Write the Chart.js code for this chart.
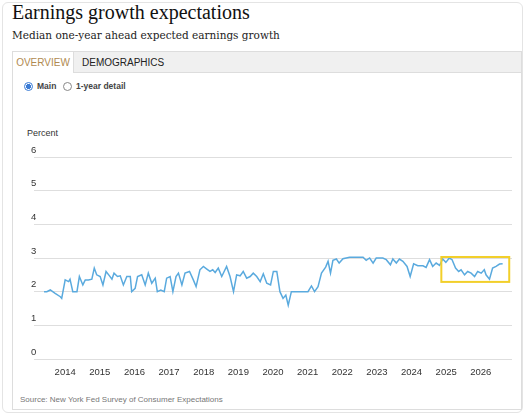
<!DOCTYPE html>
<html>
<head>
<meta charset="utf-8">
<script src="https://cdn.jsdelivr.net/npm/chart.js@4"></script>
<style>
  body { margin: 0; width: 525px; height: 415px; background: #fff; position: relative; overflow: hidden; font-family: "Liberation Sans", Arial, sans-serif; }
  .frame { position: absolute; left: 2px; top: 2px; width: 519px; height: 409px; border: 1px solid #e4e4e4; border-radius: 6px; }
  .title { position: absolute; left: 12px; top: 1px; font: 20px "Liberation Serif", "DejaVu Serif", serif; color: #111; }
  .sub { position: absolute; left: 12px; top: 29px; font: 10.5px "DejaVu Serif", serif; color: #222; }
  .panel { position: absolute; left: 12px; top: 51px; width: 508px; height: 357px; border: 1px solid #ddd; }
  .tabs { position: absolute; left: 0; top: 0; width: 508px; height: 20px; background: #f0f0f0; border-bottom: 1px solid #ddd; }
  .tab1 { position: absolute; left: 0; top: 0; width: 60px; height: 21px; background: #fff; border-right: 1px solid #ddd; color: #b08a50; font-size: 10px; line-height: 21px; text-align: center; }
  .tab2 { position: absolute; left: 69px; top: 0; font-size: 10px; line-height: 21px; color: #222; }
  .radio { position: absolute; top: 29px; font-size: 8.5px; font-weight: bold; color: #444; }
  .dot { display: inline-block; width: 7px; height: 7px; border-radius: 50%; border: 1px solid #888; vertical-align: -2px; margin-right: 4px; }
  .on { border-color: #3a7bd5; background: radial-gradient(#3a7bd5 45%, #fff 55%); }
  .unit { position: absolute; left: 27px; top: 128px; font-size: 9px; color: #333; }
  .src { position: absolute; left: 20px; top: 395px; font-size: 8px; color: #777; }
  canvas { position: absolute; left: 0; top: 0; }
</style>
</head>
<body>
<div class="frame"></div>
<div class="title">Earnings growth expectations</div>
<div class="sub">Median one-year ahead expected earnings growth</div>
<div class="panel">
  <div class="tabs"><div class="tab1">OVERVIEW</div><div class="tab2">DEMOGRAPHICS</div></div>
  <div class="radio" style="left:11px"><span class="dot on"></span>Main</div>
  <div class="radio" style="left:50px"><span class="dot"></span>1-year detail</div>
</div>
<div class="unit">Percent</div>
<div class="src">Source: New York Fed Survey of Consumer Expectations</div>
<div style="position:absolute;left:0;top:0;width:525px;height:415px"><canvas id="chart"></canvas></div>
<script>
const dates = [
  2013.39, 2013.47, 2013.57, 2013.71, 2013.86, 2013.90, 2014.00, 2014.10, 2014.14, 2014.22,
  2014.34, 2014.41, 2014.51, 2014.58, 2014.67, 2014.77, 2014.84, 2014.91, 2015.01, 2015.09,
  2015.18, 2015.28, 2015.35, 2015.41, 2015.51, 2015.59, 2015.68, 2015.78, 2015.88, 2015.92,
  2016.02, 2016.09, 2016.21, 2016.31, 2016.40, 2016.50, 2016.60, 2016.66, 2016.76, 2016.86,
  2016.93, 2017.03, 2017.11, 2017.20, 2017.27, 2017.37, 2017.46, 2017.59, 2017.70, 2017.78,
  2017.89, 2017.99, 2018.09, 2018.18, 2018.26, 2018.33, 2018.42, 2018.52, 2018.66, 2018.76,
  2018.86, 2018.95, 2019.05, 2019.14, 2019.24, 2019.34, 2019.43, 2019.53, 2019.63, 2019.72,
  2019.82, 2019.93, 2020.01, 2020.11, 2020.20, 2020.29, 2020.37, 2020.44, 2020.53, 2020.68,
  2020.87, 2021.01, 2021.11, 2021.20, 2021.30, 2021.40, 2021.52, 2021.59, 2021.66, 2021.73,
  2021.83, 2021.91, 2022.02, 2022.21, 2022.41, 2022.60, 2022.69, 2022.79, 2022.89, 2022.98,
  2023.17, 2023.27, 2023.39, 2023.46, 2023.56, 2023.65, 2023.75, 2023.87, 2023.96, 2024.06,
  2024.18, 2024.33, 2024.42, 2024.52, 2024.61, 2024.71, 2024.81, 2024.90, 2024.99, 2025.09,
  2025.17, 2025.27, 2025.36, 2025.43, 2025.53, 2025.62, 2025.72, 2025.82, 2025.91, 2026.01,
  2026.10, 2026.15, 2026.25, 2026.34, 2026.44, 2026.54, 2026.63
];
const growth = [
  2.00, 2.00, 2.05, 1.95, 1.85, 1.80, 2.35, 2.30, 2.37, 2.00,
  2.00, 2.45, 2.20, 2.35, 2.35, 2.37, 2.70, 2.50, 2.45, 2.20,
  2.60, 2.47, 2.37, 2.55, 2.45, 2.47, 2.20, 2.45, 2.45, 2.00,
  2.10, 2.45, 2.50, 2.20, 2.55, 2.25, 2.40, 2.00, 2.05, 2.00,
  2.40, 2.45, 2.00, 2.45, 2.55, 2.20, 2.55, 2.60, 2.35, 2.15,
  2.65, 2.75, 2.67, 2.60, 2.65, 2.57, 2.70, 2.45, 2.75, 2.45,
  2.00, 2.50, 2.47, 2.60, 2.40, 2.45, 2.55, 2.45, 2.30, 2.53,
  2.25, 2.20, 2.60, 2.60, 2.00, 1.80, 1.90, 1.60, 2.00, 2.00,
  2.00, 2.00, 2.17, 2.00, 2.15, 2.55, 2.73, 2.90, 2.55, 2.93,
  2.97, 2.85, 2.98, 3.02, 3.02, 3.02, 2.93, 3.00, 2.85, 3.00,
  3.00, 2.95, 2.80, 2.97, 2.85, 2.97, 2.90, 2.75, 2.45, 2.83,
  2.77, 2.77, 2.72, 2.95, 2.75, 2.85, 2.78, 2.97, 2.87, 3.00,
  2.95, 2.70, 2.60, 2.65, 2.50, 2.60, 2.55, 2.45, 2.60, 2.55,
  2.65, 2.50, 2.37, 2.70, 2.75, 2.82, 2.83
];
const yearTicks = [2014, 2015, 2016, 2017, 2018, 2019, 2020, 2021, 2022, 2023, 2024, 2025, 2026];
const boxFrom = [2024.86, 3.03];
const boxTo = [2026.82, 2.29];

// yellow highlight rectangle, placed through the chart scales
const highlight = {
  id: 'highlight',
  afterDatasetsDraw(chart) {
    const x = chart.scales.x, y = chart.scales.y, ctx = chart.ctx;
    const x0 = x.getPixelForValue(boxFrom[0]), x1 = x.getPixelForValue(boxTo[0]);
    const y0 = y.getPixelForValue(boxFrom[1]), y1 = y.getPixelForValue(boxTo[1]);
    ctx.save();
    ctx.strokeStyle = '#f2cf2a';
    ctx.lineWidth = 2;
    ctx.strokeRect(x0, y0, x1 - x0, y1 - y0);
    ctx.restore();
  }
};

new Chart(document.getElementById('chart'), {
  type: 'line',
  data: {
    datasets: [{
      data: dates.map((d, i) => ({x: d, y: growth[i]})),
      borderColor: '#5aaade',
      borderWidth: 1.5,
      pointRadius: 0,
      tension: 0
    }]
  },
  plugins: [highlight],
  options: {
    responsive: true,
    maintainAspectRatio: false,
    animation: false,
    layout: {padding: {left: 34, right: 13, top: 157, bottom: 36}},
    plugins: {legend: {display: false}, tooltip: {enabled: false}},
    scales: {
      x: {
        type: 'linear', min: 2013.1, max: 2026.9,
        afterBuildTicks: ax => { ax.ticks = yearTicks.map(v => ({value: v})); },
        afterFit: ax => { ax.height = 20; },
        grid: {display: false},
        border: {display: false},
        ticks: {color: '#333', font: {family: 'Liberation Sans', size: 9.5}, padding: 0, callback: v => String(v)}
      },
      y: {
        min: 0, max: 6,
        afterFit: ax => { ax.width = 0; },
        grid: {color: '#dedede', drawTicks: false},
        border: {display: false},
        ticks: {stepSize: 1, mirror: true, padding: -3, labelOffset: -7, color: '#333', font: {family: 'Liberation Sans', size: 9.5}}
      }
    }
  }
});
</script>
</body>
</html>
